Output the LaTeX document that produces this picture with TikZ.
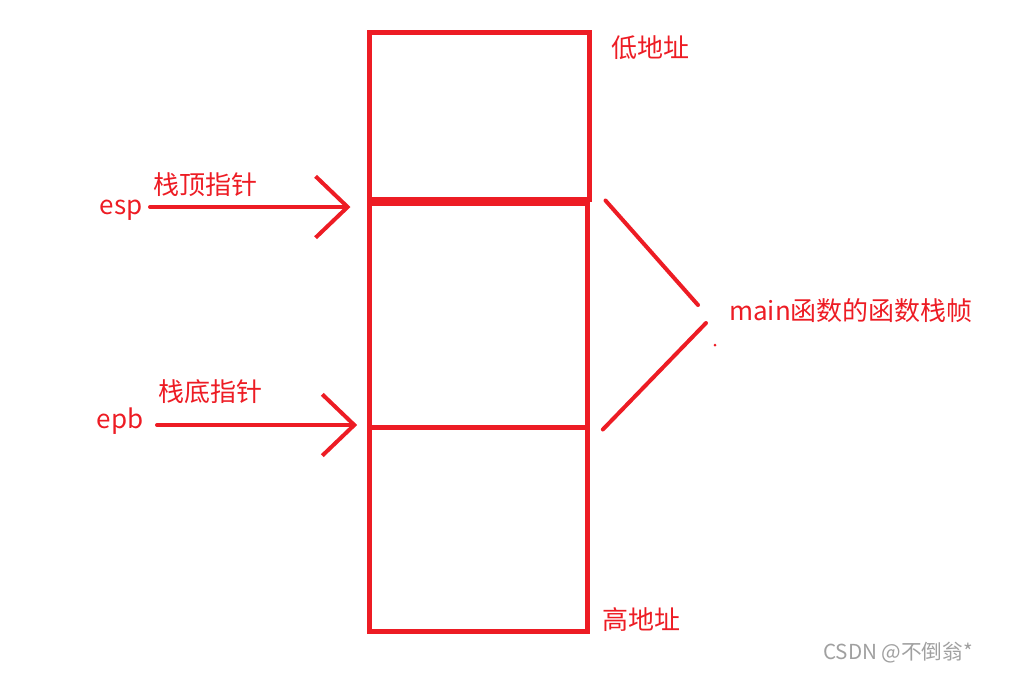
\documentclass[tikz,border=0pt]{standalone}
\usepackage{fontspec}
\setmainfont{Noto Sans CJK SC}
\definecolor{pen}{RGB}{237,28,36}
\definecolor{mark}{RGB}{160,160,160}
\usetikzlibrary{arrows.meta,positioning,calc}

\begin{document}
\begin{tikzpicture}[x=0.75pt,y=0.75pt,yscale=-1,xscale=1,
	stackbox/.style={draw=pen,line width=3.75pt,minimum width=163.5pt,inner sep=0pt},
	ptr/.style={draw=pen,line width=3pt,line cap=round,line join=round,-{Straight Barb[length=24pt,width=46pt,line width=3pt]}},
	brace/.style={draw=pen,line width=3pt,line cap=round},
	lbl/.style={text=pen,inner sep=0pt,font=\fontsize{19.5}{22}\selectfont}]
	\useasboundingbox (0,0) rectangle (1033,672);
	
	% stack slots
	\node [stackbox,minimum width=165pt,minimum height=125.25pt] (lowslot) at (479,115.5) {};
	\node [stackbox,minimum height=168pt] (frame) at (478,315) {};
	\node [stackbox,minimum height=153pt] (highslot) at (478,529) {};
	
	% address labels
	\node [lbl] (lowaddr) at (650,48) {低地址};
	\node [lbl] (highaddr) at (641,620) {高地址};
	
	% esp
	\node [lbl] (esp) at (121,210) {esp};
	\node [lbl] (esptxt) at (205,185) {栈顶指针};
	\coordinate (esptail) at (150,207);
	\draw [ptr] (esptail) -- ([xshift=-12pt]frame.west |- esptail);
	
	% epb
	\node [lbl] (epb) at (120,421) {epb};
	\node [lbl] (epbtxt) at (210,392) {栈底指针};
	\coordinate (epbtail) at (157,425);
	\draw [ptr] (epbtail) -- ([xshift=-7pt]frame.west |- epbtail);
	
	% main frame
	\node [lbl] (mainlbl) at (851,311) {main函数的函数栈帧};
	\coordinate (uptip) at (698,305);
	\coordinate (lowtip) at (706,323);
	\draw [brace] ([xshift=12pt]frame.north east) -- (uptip);
	\draw [brace] (lowtip) -- ([xshift=10pt]frame.south east);
	\fill [pen] (715,345) circle (1.5);
	
	\node [text=mark,font=\fontsize{15.5}{18}\selectfont] (csdn) at (898,653) {CSDN @不倒翁*};
	
\end{tikzpicture}
\end{document}
